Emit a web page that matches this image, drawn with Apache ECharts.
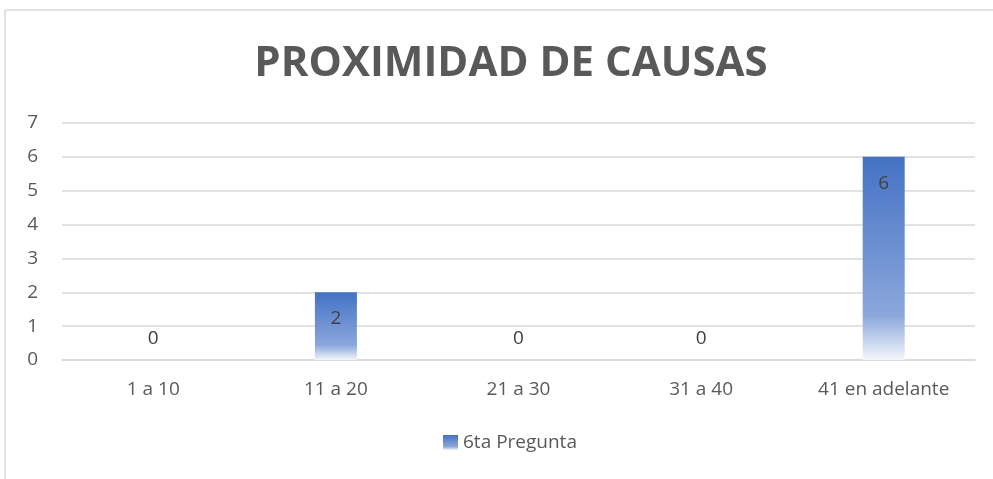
<!DOCTYPE html>
<html>
<head>
<meta charset="utf-8">
<script src="https://cdn.jsdelivr.net/npm/echarts@6/dist/echarts.min.js"></script>
<style>
  html, body { margin: 0; padding: 0; background: #fff; }
  #chart { width: 993px; height: 479px; }
</style>
</head>
<body>
<div id="chart"></div>
<script>
  // datos
  const categorias = ["1 a 10", "11 a 20", "21 a 30", "31 a 40", "41 en adelante"];
  const valores = [0, 2, 0, 0, 6];
  const ticksY = [0, 1, 2, 3, 4, 5, 6, 7];
  const nombreSerie = "6ta Pregunta";

  const fuente = '"Open Sans", "Noto Sans", sans-serif';

  const degradado = new echarts.graphic.LinearGradient(0, 0, 0, 1, [
    { offset: 0, color: "#4472C4" },
    { offset: 0.78, color: "#8ba7dc" },
    { offset: 1, color: "#f3f6fb" }
  ]);

  const myChart = echarts.init(document.getElementById("chart"), null, { renderer: "canvas" });

  const option = {
    animation: false,
    backgroundColor: "#fff",
    title: {
      text: "PROXIMIDAD DE CAUSAS",
      left: 506,
      textAlign: "center",
      top: 38,
      textStyle: { fontFamily: fuente, fontSize: 42, fontWeight: "bold", color: "#595959" }
    },
    graphic: [
      { type: "line", shape: { x1: 5, y1: 10, x2: 993, y2: 10 }, style: { stroke: "#d9d9d9", lineWidth: 1.5 } },
      { type: "line", shape: { x1: 5, y1: 10, x2: 5, y2: 479 }, style: { stroke: "#d9d9d9", lineWidth: 1.5 } }
    ],
    legend: {
      bottom: 22,
      left: 438,
      itemWidth: 15,
      itemHeight: 15,
      itemGap: 4,
      textStyle: { fontFamily: fuente, fontSize: 19, color: "#595959", padding: [0, 0, 0, 0] },
      data: [{ name: nombreSerie, icon: "rect" }]
    },
    grid: { left: 62, right: 18, top: 123, bottom: 119 },
    xAxis: {
      type: "category",
      data: categorias,
      axisLine: { lineStyle: { color: "#d9d9d9", width: 1.5 } },
      axisTick: { show: false },
      axisLabel: { fontFamily: fuente, fontSize: 19, color: "#595959", margin: 20 }
    },
    yAxis: {
      type: "value",
      min: ticksY[0],
      max: ticksY[ticksY.length - 1],
      interval: 1,
      axisLine: { show: false },
      axisTick: { show: false },
      splitLine: { lineStyle: { color: "#d9d9d9", width: 1.5 } },
      axisLabel: { fontFamily: fuente, fontSize: 19, color: "#595959", margin: 24 }
    },
    series: [
      {
        name: nombreSerie,
        type: "bar",
        barWidth: 42,
        itemStyle: { color: degradado },
        data: valores.map(v => ({
          value: v,
          label: v === 0
            ? { show: true, position: "top", distance: 12 }
            : { show: true, position: "insideTop", distance: 17 }
        })),
        label: { fontFamily: fuente, fontSize: 19, color: "#404040" }
      }
    ]
  };

  myChart.setOption(option);
</script>
</body>
</html>
